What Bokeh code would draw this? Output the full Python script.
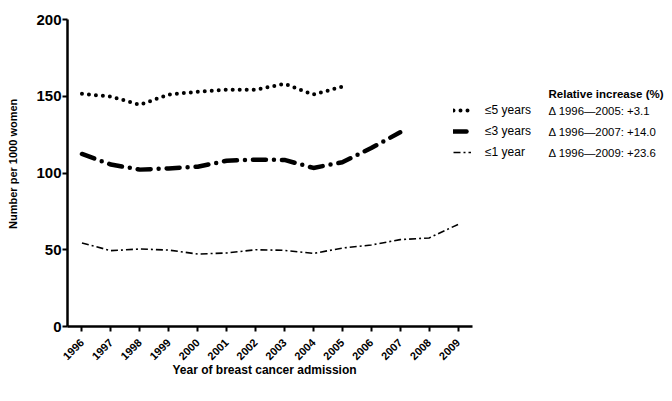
import math
from bokeh.plotting import figure
from bokeh.models import Range1d, FixedTicker, Legend, LegendItem, Label, Title
from bokeh.embed import file_html
from bokeh.resources import INLINE

years = list(range(1996, 2010))
y5_years = years[:10]
y5 = [151.6, 149.8, 144.4, 151.1, 152.9, 154.2, 154.2, 158.1, 151.1, 156.3]
y3_years = years[:12]
y3 = [112.4, 105.5, 102.2, 103.0, 104.1, 108.0, 108.7, 108.5, 103.3, 107.0, 116.3, 126.5]
y1_years = years
y1 = [54.4, 49.4, 50.5, 49.8, 47.2, 47.9, 50.0, 49.6, 47.6, 51.1, 53.1, 56.6, 57.7, 66.5]

series_labels = ["\u22645 years", "\u22643 years", "\u22641 year"]
increase_labels = ["\u0394 1996\u20142005: +3.1", "\u0394 1996\u20142007: +14.0", "\u0394 1996\u20142009: +23.6"]
legend_title = "Relative increase (%)"
y_title = "Number per 1000 women"
x_title = "Year of breast cancer admission"

FONT = "Liberation Sans"
W, H = 664, 385

# canvas-pixel geometry of the frame
frame_left, axis_right, frame_right = 67, 472, W
frame_top, frame_bot = 19, 326
px_per_year = (axis_right - frame_left) / 14.0
x_start = 1995.5
x_end = x_start + (frame_right - frame_left) / px_per_year

p = figure(width=W, height=H, output_backend="svg", toolbar_location=None,
           x_range=Range1d(x_start, x_end), y_range=Range1d(0, 200),
           min_border_left=frame_left, min_border_right=0,
           min_border_top=frame_top, min_border_bottom=H - frame_bot)
p.outline_line_color = None
p.grid.visible = False
p.background_fill_color = "white"

r5 = p.line(y5_years, y5, line_color="black", line_width=4, line_dash="0 7", line_cap="round")
r3 = p.line(y3_years, y3, line_color="black", line_width=4.5, line_dash="13 8 0 8", line_cap="round")
r1 = p.line(y1_years, y1, line_color="black", line_width=1.6, line_dash="7 3 2 3")

for ax in (p.xaxis[0], p.yaxis[0]):
    ax.axis_line_width = 2.5
    ax.axis_line_color = "black"
    ax.major_tick_line_width = 2
    ax.major_tick_line_color = "black"
    ax.major_tick_out = 5
    ax.major_tick_in = 0
    ax.minor_tick_line_color = None
    ax.major_label_text_font = FONT
    ax.major_label_text_font_style = "bold"
    ax.major_label_text_color = "black"
    ax.axis_label_text_font = FONT
    ax.axis_label_text_font_style = "bold"
    ax.axis_label_text_color = "black"

p.yaxis.ticker = FixedTicker(ticks=[0, 50, 100, 150, 200])
p.yaxis.major_label_text_font_size = "15px"
p.yaxis.major_label_standoff = 1
p.yaxis.axis_label = "\u00a0" * 6 + y_title
p.yaxis.axis_label_text_font_size = "11px"
p.yaxis.axis_label_standoff = 14

p.xaxis.bounds = (x_start, x_start + 14)
p.xaxis.ticker = FixedTicker(ticks=years)
p.xaxis.major_label_text_font_size = "11px"
p.xaxis.major_label_orientation = math.pi / 4
p.xaxis.major_label_standoff = 9

# x-axis title, centred under the axis line (not the whole frame)
p.add_layout(Title(text=x_title, align="left", offset=105, standoff=-12,
                   text_font=FONT, text_font_style="bold", text_font_size="12px",
                   text_color="black"), "below")

legend = Legend(items=[LegendItem(label=series_labels[0], renderers=[r5]),
                       LegendItem(label=series_labels[1], renderers=[r3]),
                       LegendItem(label=series_labels[2], renderers=[r1])],
                location=(386, 164), padding=0, margin=0, spacing=1,
                glyph_width=18, glyph_height=20, label_height=20, label_standoff=14,
                border_line_color=None, background_fill_alpha=0,
                label_text_font=FONT, label_text_font_size="12px", label_text_color="black")
p.add_layout(legend, "center")

def dx(cx):
    return x_start + (cx - frame_left) / px_per_year
def dy(cy):
    return (frame_bot - cy) * 200 / (frame_bot - frame_top)

p.add_layout(Label(x=dx(548), y=dy(93), text=legend_title, text_font=FONT,
                   text_font_style="bold", text_font_size="11.5px", text_color="black",
                   text_baseline="middle"))
for i, t in enumerate(increase_labels):
    p.add_layout(Label(x=dx(548), y=dy(110.5 + 21 * i), text=t, text_font=FONT,
                       text_font_size="11.4px", text_color="black", text_baseline="middle"))

open("out.html", "w").write(file_html(p, INLINE))
